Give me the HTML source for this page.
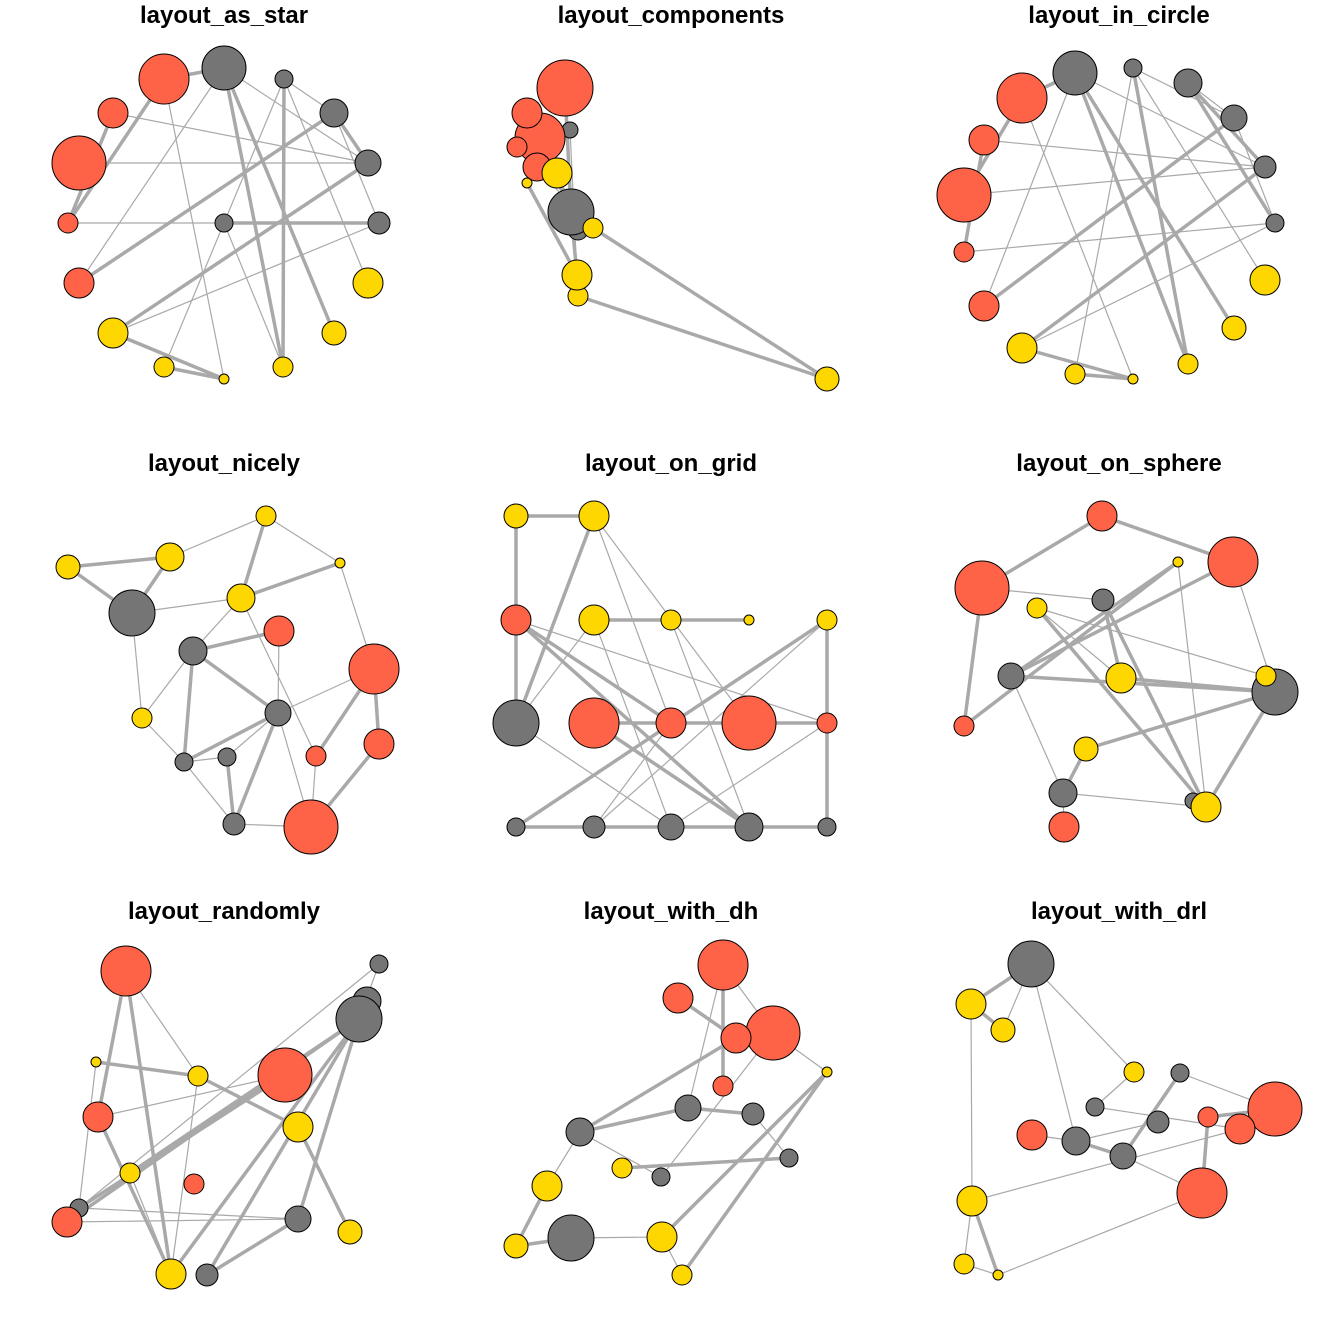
<!DOCTYPE html>
<html><head><meta charset="utf-8"><style>
html,body{margin:0;padding:0;background:#fff;}
svg{display:block}
text{font-family:"Liberation Sans",sans-serif;font-weight:bold;font-size:24px;text-anchor:middle;fill:#000}
.e line{stroke:#A9A9A9;stroke-width:1.2}
.e line.t{stroke-width:3.5}
circle{stroke:#000;stroke-width:1}
.r{fill:#FF6347}.g{fill:#757575}.y{fill:#FFD700}
</style></head><body>
<svg width="1344" height="1344" viewBox="0 0 1344 1344">
<text x="224" y="23">layout_as_star</text>
<text x="671" y="23">layout_components</text>
<text x="1119" y="23">layout_in_circle</text>
<text x="224" y="471">layout_nicely</text>
<text x="671" y="471">layout_on_grid</text>
<text x="1119" y="471">layout_on_sphere</text>
<text x="224" y="919">layout_randomly</text>
<text x="671" y="919">layout_with_dh</text>
<text x="1119" y="919">layout_with_drl</text>

<g class="e">
<!-- P1 -->
<line class="t" x1="224" y1="68" x2="283" y2="367"/><line class="t" x1="284" y1="79" x2="283" y2="367"/>
<line class="t" x1="79" y1="283" x2="334" y2="113"/><line class="t" x1="113" y1="333" x2="368" y2="163"/>
<line class="t" x1="113" y1="333" x2="224" y2="379"/><line class="t" x1="164" y1="367" x2="224" y2="379"/>
<line class="t" x1="224" y1="68" x2="334" y2="333"/><line class="t" x1="68" y1="223" x2="113" y2="113"/>
<line class="t" x1="68" y1="223" x2="164" y2="79"/><line class="t" x1="164" y1="79" x2="224" y2="68"/>
<line class="t" x1="224" y1="223" x2="379" y2="223"/><line class="t" x1="334" y1="113" x2="368" y2="163"/>
<line x1="68" y1="223" x2="379" y2="223"/><line x1="79" y1="163" x2="368" y2="163"/>
<line x1="113" y1="113" x2="368" y2="163"/><line x1="164" y1="79" x2="224" y2="379"/>
<line x1="284" y1="79" x2="368" y2="283"/><line x1="224" y1="68" x2="368" y2="163"/>
<line x1="113" y1="333" x2="379" y2="223"/><line x1="79" y1="283" x2="224" y2="68"/>
<line x1="164" y1="367" x2="284" y2="79"/><line x1="334" y1="113" x2="379" y2="223"/>
<line x1="224" y1="223" x2="283" y2="367"/><line x1="284" y1="79" x2="334" y2="113"/>
<!-- P2 -->
<line class="t" x1="593" y1="228" x2="827" y2="379"/><line class="t" x1="578" y1="296" x2="827" y2="379"/>
<line class="t" x1="571" y1="212" x2="577" y2="275"/><line class="t" x1="557" y1="173" x2="571" y2="212"/>
<line class="t" x1="540" y1="138" x2="578" y2="230"/><line class="t" x1="527" y1="183" x2="577" y2="275"/>
<line class="t" x1="565" y1="88" x2="571" y2="212"/><line x1="517" y1="147" x2="593" y2="228"/>
<line x1="570" y1="130" x2="578" y2="296"/>
<!-- P3 -->
<line class="t" x1="1075" y1="73" x2="1188" y2="364"/><line class="t" x1="1133" y1="68" x2="1188" y2="364"/>
<line class="t" x1="984" y1="306" x2="1234" y2="118"/><line class="t" x1="1022" y1="348" x2="1265" y2="167"/>
<line class="t" x1="1022" y1="348" x2="1133" y2="379"/><line class="t" x1="1075" y1="374" x2="1133" y2="379"/>
<line class="t" x1="1075" y1="73" x2="1234" y2="328"/><line class="t" x1="964" y1="252" x2="984" y2="140"/>
<line class="t" x1="964" y1="195" x2="1022" y2="98"/><line class="t" x1="1022" y1="98" x2="1075" y2="73"/>
<line class="t" x1="1188" y1="83" x2="1265" y2="167"/><line class="t" x1="1188" y1="83" x2="1275" y2="223"/>
<line x1="964" y1="252" x2="1275" y2="223"/><line x1="964" y1="195" x2="1265" y2="167"/>
<line x1="984" y1="140" x2="1265" y2="167"/><line x1="1022" y1="98" x2="1133" y2="379"/>
<line x1="1133" y1="68" x2="1265" y2="280"/><line x1="1075" y1="73" x2="1265" y2="167"/>
<line x1="1022" y1="348" x2="1275" y2="223"/><line x1="984" y1="306" x2="1075" y2="73"/>
<line x1="1075" y1="374" x2="1133" y2="68"/><line x1="1234" y1="118" x2="1275" y2="223"/>
<line x1="1133" y1="68" x2="1234" y2="118"/><line x1="1188" y1="83" x2="1234" y2="118"/>
<!-- P4 -->
<line class="t" x1="68" y1="567" x2="170" y2="557"/><line class="t" x1="68" y1="567" x2="132" y2="613"/>
<line class="t" x1="132" y1="613" x2="170" y2="557"/><line x1="170" y1="557" x2="266" y2="516"/>
<line x1="266" y1="516" x2="340" y2="563"/><line class="t" x1="266" y1="516" x2="241" y2="598"/>
<line class="t" x1="241" y1="598" x2="340" y2="563"/><line x1="132" y1="613" x2="241" y2="598"/>
<line class="t" x1="193" y1="651" x2="279" y2="631"/><line x1="193" y1="651" x2="241" y2="598"/>
<line class="t" x1="193" y1="651" x2="278" y2="713"/><line x1="193" y1="651" x2="142" y2="718"/>
<line class="t" x1="193" y1="651" x2="184" y2="762"/><line x1="340" y1="563" x2="374" y2="669"/>
<line class="t" x1="374" y1="669" x2="379" y2="744"/><line class="t" x1="374" y1="669" x2="316" y2="756"/>
<line x1="278" y1="713" x2="374" y2="669"/><line class="t" x1="278" y1="713" x2="234" y2="824"/>
<line x1="278" y1="713" x2="227" y2="757"/><line x1="278" y1="713" x2="279" y2="631"/>
<line x1="316" y1="756" x2="311" y2="827"/><line class="t" x1="379" y1="744" x2="311" y2="827"/>
<line x1="234" y1="824" x2="311" y2="827"/><line x1="184" y1="762" x2="227" y2="757"/>
<line class="t" x1="227" y1="757" x2="234" y2="824"/><line x1="142" y1="718" x2="184" y2="762"/>
<line x1="184" y1="762" x2="234" y2="824"/><line class="t" x1="184" y1="762" x2="278" y2="713"/>
<line x1="132" y1="613" x2="142" y2="718"/><line x1="278" y1="713" x2="311" y2="827"/>
<line x1="241" y1="598" x2="316" y2="756"/>
<!-- P5 -->
<line class="t" x1="516" y1="516" x2="594" y2="516"/><line class="t" x1="516" y1="516" x2="516" y2="620"/>
<line class="t" x1="516" y1="620" x2="516" y2="723"/><line class="t" x1="516" y1="723" x2="594" y2="516"/>
<line x1="594" y1="516" x2="749" y2="723"/><line x1="594" y1="516" x2="671" y2="723"/>
<line class="t" x1="594" y1="620" x2="749" y2="620"/><line class="t" x1="516" y1="620" x2="749" y2="827"/>
<line class="t" x1="516" y1="620" x2="671" y2="723"/><line x1="516" y1="723" x2="594" y2="620"/>
<line class="t" x1="594" y1="723" x2="827" y2="723"/><line class="t" x1="827" y1="620" x2="827" y2="827"/>
<line class="t" x1="516" y1="827" x2="827" y2="827"/><line class="t" x1="516" y1="827" x2="827" y2="620"/>
<line x1="594" y1="827" x2="827" y2="620"/><line x1="594" y1="827" x2="671" y2="723"/>
<line x1="671" y1="827" x2="827" y2="723"/><line x1="594" y1="620" x2="671" y2="827"/>
<line class="t" x1="594" y1="723" x2="749" y2="827"/><line x1="516" y1="723" x2="671" y2="827"/>
<line x1="671" y1="620" x2="749" y2="827"/><line x1="516" y1="620" x2="827" y2="723"/>
<!-- P6 -->
<line class="t" x1="982" y1="588" x2="1102" y2="516"/><line class="t" x1="1102" y1="516" x2="1233" y2="562"/>
<line class="t" x1="982" y1="588" x2="964" y2="726"/><line class="t" x1="964" y1="726" x2="1178" y2="562"/>
<line class="t" x1="1011" y1="676" x2="1275" y2="692"/><line class="t" x1="1011" y1="676" x2="1178" y2="562"/>
<line class="t" x1="1037" y1="608" x2="1206" y2="807"/><line class="t" x1="1103" y1="600" x2="1121" y2="678"/>
<line class="t" x1="1121" y1="678" x2="1275" y2="692"/><line class="t" x1="1086" y1="749" x2="1275" y2="692"/>
<line class="t" x1="1063" y1="793" x2="1086" y2="749"/><line x1="1063" y1="793" x2="1011" y2="676"/>
<line x1="1063" y1="793" x2="1206" y2="807"/><line x1="1233" y1="562" x2="1275" y2="692"/>
<line class="t" x1="1275" y1="692" x2="1206" y2="807"/><line class="t" x1="1103" y1="600" x2="1206" y2="807"/>
<line x1="982" y1="588" x2="1103" y2="600"/><line x1="1037" y1="608" x2="1121" y2="678"/>
<line x1="1037" y1="608" x2="1266" y2="676"/><line x1="1178" y1="562" x2="1206" y2="807"/>
<line x1="1064" y1="827" x2="1063" y2="793"/><line class="t" x1="1011" y1="676" x2="1233" y2="562"/>
<!-- P7 -->
<line class="t" x1="126" y1="971" x2="98" y2="1117"/><line class="t" x1="126" y1="971" x2="171" y2="1274"/>
<line x1="126" y1="971" x2="198" y2="1076"/><line class="t" x1="96" y1="1062" x2="198" y2="1076"/>
<line x1="96" y1="1062" x2="79" y2="1208"/><line class="t" x1="359" y1="1019" x2="171" y2="1274"/>
<line class="t" x1="359" y1="1019" x2="207" y2="1275"/><line class="t" x1="359" y1="1019" x2="298" y2="1219"/>
<line class="t" x1="359" y1="1019" x2="67" y2="1222"/><line class="t" x1="359" y1="1019" x2="130" y2="1173"/>
<line x1="379" y1="964" x2="79" y2="1208"/><line class="t" x1="285" y1="1075" x2="79" y2="1208"/>
<line x1="285" y1="1075" x2="98" y2="1117"/><line class="t" x1="298" y1="1127" x2="350" y2="1232"/>
<line class="t" x1="198" y1="1076" x2="298" y2="1127"/><line x1="79" y1="1208" x2="298" y2="1219"/>
<line x1="67" y1="1222" x2="298" y2="1219"/><line class="t" x1="98" y1="1117" x2="171" y2="1274"/>
<line x1="198" y1="1076" x2="171" y2="1274"/><line class="t" x1="298" y1="1219" x2="207" y2="1275"/>
<line x1="171" y1="1274" x2="130" y2="1173"/><line x1="359" y1="1019" x2="379" y2="964"/>
<!-- P8 -->
<line x1="723" y1="965" x2="773" y2="1033"/><line class="t" x1="678" y1="998" x2="736" y2="1038"/>
<line class="t" x1="723" y1="965" x2="723" y2="1086"/><line x1="773" y1="1033" x2="827" y2="1072"/>
<line class="t" x1="580" y1="1132" x2="736" y2="1038"/><line class="t" x1="580" y1="1132" x2="688" y2="1108"/>
<line x1="580" y1="1132" x2="547" y2="1186"/><line x1="580" y1="1132" x2="661" y2="1177"/>
<line class="t" x1="547" y1="1186" x2="516" y2="1246"/><line class="t" x1="516" y1="1246" x2="571" y2="1238"/>
<line class="t" x1="622" y1="1168" x2="789" y2="1158"/><line class="t" x1="688" y1="1108" x2="753" y2="1114"/>
<line x1="753" y1="1114" x2="789" y2="1158"/><line class="t" x1="827" y1="1072" x2="662" y2="1237"/>
<line class="t" x1="827" y1="1072" x2="682" y2="1275"/><line x1="662" y1="1237" x2="682" y2="1275"/>
<line x1="571" y1="1238" x2="662" y2="1237"/><line x1="661" y1="1177" x2="773" y2="1033"/>
<line x1="688" y1="1108" x2="723" y2="965"/>
<!-- P9 -->
<line class="t" x1="1031" y1="964" x2="971" y2="1004"/><line x1="1031" y1="964" x2="1003" y2="1030"/>
<line class="t" x1="971" y1="1004" x2="1003" y2="1030"/><line x1="1031" y1="964" x2="1134" y2="1072"/>
<line x1="1031" y1="964" x2="1076" y2="1141"/><line x1="971" y1="1004" x2="972" y2="1201"/>
<line x1="972" y1="1201" x2="964" y2="1264"/><line x1="964" y1="1264" x2="998" y2="1275"/>
<line class="t" x1="972" y1="1201" x2="998" y2="1275"/><line x1="998" y1="1275" x2="1202" y2="1193"/>
<line class="t" x1="1076" y1="1141" x2="1123" y2="1156"/><line class="t" x1="1123" y1="1156" x2="1180" y2="1073"/>
<line x1="1095" y1="1107" x2="1240" y2="1129"/><line class="t" x1="1208" y1="1117" x2="1275" y2="1109"/>
<line class="t" x1="1202" y1="1193" x2="1208" y2="1117"/><line x1="1032" y1="1135" x2="1076" y2="1141"/>
<line x1="1095" y1="1107" x2="1134" y2="1072"/><line x1="1076" y1="1141" x2="1158" y2="1122"/>
<line x1="972" y1="1201" x2="1240" y2="1129"/><line x1="1180" y1="1073" x2="1275" y2="1109"/>
<line x1="1123" y1="1156" x2="1202" y2="1193"/>
</g>

<g>
<!-- P1 nodes -->
<circle class="g" cx="224" cy="223" r="9"/><circle class="r" cx="164" cy="79" r="25"/><circle class="g" cx="224" cy="68" r="22"/>
<circle class="g" cx="284" cy="79" r="9"/><circle class="g" cx="334" cy="113" r="14"/><circle class="g" cx="368" cy="163" r="13"/>
<circle class="g" cx="379" cy="223" r="11"/><circle class="y" cx="368" cy="283" r="15"/><circle class="y" cx="334" cy="333" r="12"/>
<circle class="y" cx="283" cy="367" r="10"/><circle class="y" cx="224" cy="379" r="5"/><circle class="y" cx="164" cy="367" r="10"/>
<circle class="y" cx="113" cy="333" r="15"/><circle class="r" cx="79" cy="283" r="15"/><circle class="r" cx="68" cy="223" r="10"/>
<circle class="r" cx="79" cy="163" r="27"/><circle class="r" cx="113" cy="113" r="15"/>
<!-- P2 -->
<circle class="g" cx="570" cy="130" r="8"/><circle class="r" cx="565" cy="88" r="28"/><circle class="r" cx="540" cy="138" r="25"/>
<circle class="r" cx="527" cy="113" r="15"/><circle class="r" cx="517" cy="147" r="10"/><circle class="r" cx="537" cy="167" r="14"/>
<circle class="y" cx="557" cy="173" r="15"/><circle class="y" cx="527" cy="183" r="5"/><circle class="g" cx="578" cy="230" r="10"/>
<circle class="g" cx="571" cy="212" r="23"/><circle class="y" cx="593" cy="228" r="10"/><circle class="y" cx="578" cy="296" r="10"/>
<circle class="y" cx="577" cy="275" r="15"/><circle class="y" cx="827" cy="379" r="12"/>
<!-- P3 -->
<circle class="g" cx="1075" cy="73" r="22"/><circle class="g" cx="1133" cy="68" r="9"/><circle class="g" cx="1188" cy="83" r="14"/>
<circle class="g" cx="1234" cy="118" r="13"/><circle class="g" cx="1265" cy="167" r="11"/><circle class="g" cx="1275" cy="223" r="9"/>
<circle class="y" cx="1265" cy="280" r="15"/><circle class="y" cx="1234" cy="328" r="12"/><circle class="y" cx="1188" cy="364" r="10"/>
<circle class="y" cx="1133" cy="379" r="5"/><circle class="y" cx="1075" cy="374" r="10"/><circle class="y" cx="1022" cy="348" r="15"/>
<circle class="r" cx="984" cy="306" r="15"/><circle class="r" cx="964" cy="252" r="10"/><circle class="r" cx="964" cy="195" r="27"/>
<circle class="r" cx="984" cy="140" r="15"/><circle class="r" cx="1022" cy="98" r="25"/>
<!-- P4 -->
<circle class="y" cx="266" cy="516" r="10"/><circle class="y" cx="170" cy="557" r="14"/><circle class="y" cx="68" cy="567" r="12"/>
<circle class="y" cx="340" cy="563" r="5"/><circle class="g" cx="132" cy="613" r="23"/><circle class="y" cx="241" cy="598" r="14"/>
<circle class="r" cx="279" cy="631" r="15"/><circle class="g" cx="193" cy="651" r="14"/><circle class="r" cx="374" cy="669" r="25"/>
<circle class="y" cx="142" cy="718" r="10"/><circle class="g" cx="278" cy="713" r="13"/><circle class="r" cx="316" cy="756" r="10"/>
<circle class="r" cx="379" cy="744" r="15"/><circle class="g" cx="184" cy="762" r="9"/><circle class="g" cx="227" cy="757" r="9"/>
<circle class="g" cx="234" cy="824" r="11"/><circle class="r" cx="311" cy="827" r="27"/>
<!-- P5 -->
<circle class="y" cx="516" cy="516" r="12"/><circle class="y" cx="594" cy="516" r="15"/>
<circle class="r" cx="516" cy="620" r="15"/><circle class="y" cx="594" cy="620" r="15"/><circle class="y" cx="671" cy="620" r="10"/>
<circle class="y" cx="749" cy="620" r="5"/><circle class="y" cx="827" cy="620" r="10"/>
<circle class="g" cx="516" cy="723" r="23"/><circle class="r" cx="594" cy="723" r="25"/><circle class="r" cx="671" cy="723" r="15"/>
<circle class="r" cx="749" cy="723" r="27"/><circle class="r" cx="827" cy="723" r="10"/>
<circle class="g" cx="516" cy="827" r="9"/><circle class="g" cx="594" cy="827" r="11"/><circle class="g" cx="671" cy="827" r="13"/>
<circle class="g" cx="749" cy="827" r="14"/><circle class="g" cx="827" cy="827" r="9"/>
<!-- P6 -->
<circle class="r" cx="1102" cy="516" r="15"/><circle class="r" cx="1233" cy="562" r="25"/><circle class="r" cx="982" cy="588" r="27"/>
<circle class="y" cx="1178" cy="562" r="5"/><circle class="y" cx="1037" cy="608" r="10"/><circle class="g" cx="1103" cy="600" r="11"/>
<circle class="g" cx="1011" cy="676" r="13"/><circle class="y" cx="1121" cy="678" r="15"/><circle class="g" cx="1275" cy="692" r="23"/>
<circle class="y" cx="1266" cy="676" r="10"/><circle class="r" cx="964" cy="726" r="10"/><circle class="y" cx="1086" cy="749" r="12"/>
<circle class="g" cx="1063" cy="793" r="14"/><circle class="g" cx="1193" cy="801" r="8"/><circle class="y" cx="1206" cy="807" r="15"/>
<circle class="r" cx="1064" cy="827" r="15"/>
<!-- P7 -->
<circle class="r" cx="126" cy="971" r="25"/><circle class="g" cx="379" cy="964" r="9"/><circle class="g" cx="367" cy="1001" r="14"/>
<circle class="g" cx="359" cy="1019" r="23"/><circle class="y" cx="96" cy="1062" r="5"/><circle class="y" cx="198" cy="1076" r="10"/>
<circle class="r" cx="285" cy="1075" r="27"/><circle class="r" cx="98" cy="1117" r="15"/><circle class="y" cx="298" cy="1127" r="15"/>
<circle class="y" cx="130" cy="1173" r="10"/><circle class="r" cx="194" cy="1184" r="10"/><circle class="g" cx="79" cy="1208" r="9"/>
<circle class="r" cx="67" cy="1222" r="15"/><circle class="g" cx="298" cy="1219" r="13"/><circle class="y" cx="350" cy="1232" r="12"/>
<circle class="y" cx="171" cy="1274" r="15"/><circle class="g" cx="207" cy="1275" r="11"/>
<!-- P8 -->
<circle class="r" cx="723" cy="965" r="25"/><circle class="r" cx="678" cy="998" r="15"/><circle class="r" cx="773" cy="1033" r="27"/>
<circle class="r" cx="736" cy="1038" r="15"/><circle class="y" cx="827" cy="1072" r="5"/><circle class="r" cx="723" cy="1086" r="10"/>
<circle class="g" cx="688" cy="1108" r="13"/><circle class="g" cx="753" cy="1114" r="11"/><circle class="g" cx="580" cy="1132" r="14"/>
<circle class="y" cx="622" cy="1168" r="10"/><circle class="g" cx="661" cy="1177" r="9"/><circle class="g" cx="789" cy="1158" r="9"/>
<circle class="y" cx="547" cy="1186" r="15"/><circle class="g" cx="571" cy="1238" r="23"/><circle class="y" cx="516" cy="1246" r="12"/>
<circle class="y" cx="662" cy="1237" r="15"/><circle class="y" cx="682" cy="1275" r="10"/>
<!-- P9 -->
<circle class="g" cx="1031" cy="964" r="23"/><circle class="y" cx="971" cy="1004" r="15"/><circle class="y" cx="1003" cy="1030" r="12"/>
<circle class="y" cx="1134" cy="1072" r="10"/><circle class="g" cx="1180" cy="1073" r="9"/><circle class="g" cx="1095" cy="1107" r="9"/>
<circle class="r" cx="1275" cy="1109" r="27"/><circle class="r" cx="1208" cy="1117" r="10"/><circle class="g" cx="1158" cy="1122" r="11"/>
<circle class="r" cx="1240" cy="1129" r="15"/><circle class="r" cx="1032" cy="1135" r="15"/><circle class="g" cx="1076" cy="1141" r="14"/>
<circle class="g" cx="1123" cy="1156" r="13"/><circle class="r" cx="1202" cy="1193" r="25"/><circle class="y" cx="972" cy="1201" r="15"/>
<circle class="y" cx="964" cy="1264" r="10"/><circle class="y" cx="998" cy="1275" r="5"/>
</g>
</svg>
</body></html>
